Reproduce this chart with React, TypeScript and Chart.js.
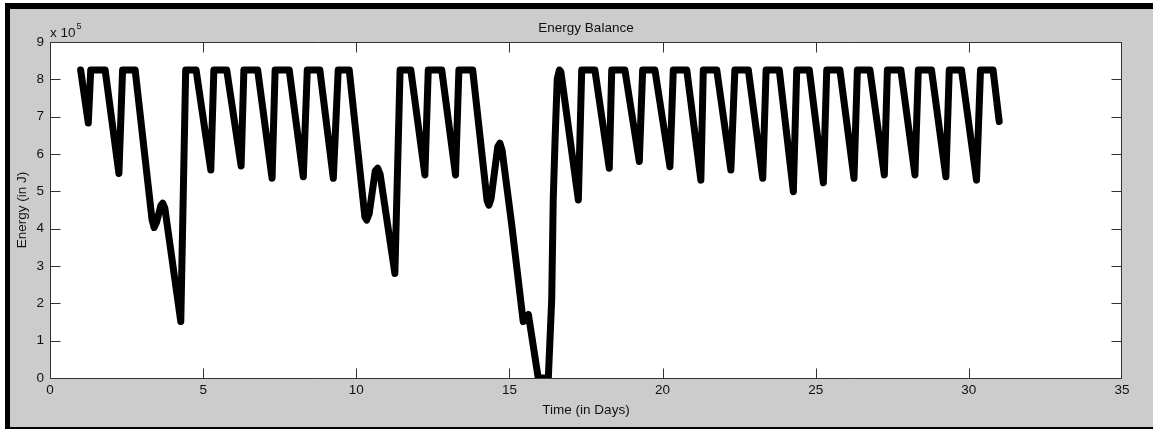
import React, { useEffect, useRef } from "react";
import { Chart, registerables } from "chart.js";

Chart.register(...registerables);

// ---- data (time in days, energy in J) ----
const days = [
  1.0, 1.25, 1.33, 1.8, 2.25, 2.37, 2.78, 3.33, 3.4, 3.47, 3.62, 3.68, 3.75, 4.27, 4.43,
  4.77, 5.25, 5.35, 5.77, 6.24, 6.33, 6.78, 7.25, 7.35, 7.81, 8.27, 8.4, 8.81, 9.25, 9.41,
  9.77, 10.28, 10.34, 10.42, 10.62, 10.7, 10.78, 11.26, 11.43, 11.78, 12.24, 12.35, 12.79,
  13.24, 13.35, 13.8, 14.27, 14.33, 14.4, 14.62, 14.69, 14.76, 15.07, 15.45, 15.62, 15.94,
  16.27, 16.38, 16.43, 16.49, 16.56, 16.63, 16.68, 17.25, 17.36, 17.79, 18.26, 18.34, 18.77,
  19.24, 19.35, 19.75, 20.24, 20.35, 20.79, 21.25, 21.33, 21.77, 22.23, 22.36, 22.8, 23.27,
  23.38, 23.81, 24.27, 24.38, 24.79, 25.25, 25.36, 25.79, 26.25, 26.36, 26.77, 27.24, 27.34,
  27.78, 28.24, 28.35, 28.78, 29.25, 29.36, 29.76, 30.25, 30.38, 30.79, 30.99,
];
const energyJ = [
  825000, 683000, 825000, 825000, 548000, 825000, 825000, 425000, 403000, 415000, 462000,
  468000, 455000, 151000, 825000, 825000, 557000, 825000, 825000, 568000, 825000, 825000,
  535000, 825000, 825000, 539000, 825000, 825000, 535000, 825000, 825000, 432000, 423000,
  440000, 555000, 562000, 545000, 280000, 825000, 825000, 544000, 825000, 825000, 544000,
  825000, 825000, 475000, 463000, 480000, 620000, 629000, 610000, 414000, 151000, 170000,
  0, 0, 210000, 477000, 638000, 800000, 825000, 820000, 477000, 825000, 825000, 562000,
  825000, 825000, 580000, 825000, 825000, 566000, 825000, 825000, 530000, 825000, 825000,
  557000, 825000, 825000, 535000, 825000, 825000, 499000, 825000, 825000, 523000, 825000,
  825000, 535000, 825000, 825000, 544000, 825000, 825000, 544000, 825000, 825000, 539000,
  825000, 825000, 530000, 825000, 825000, 687000,
];
const xTickValues = [0, 5, 10, 15, 20, 25, 30, 35];
const yTickValues = [0, 100000, 200000, 300000, 400000, 500000, 600000, 700000, 800000, 900000];
const yTickLabels = ["0", "1", "2", "3", "4", "5", "6", "7", "8", "9"];
const chartTitle = "Energy Balance";
const xAxisTitle = "Time (in Days)";
const yAxisTitle = "Energy (in J)";
const exponentBase = "x 10";
const exponentPower = "5";

const FONT = "'Liberation Sans', Arial, sans-serif";
const FS = 13.5;

const matlabAxes = {
  id: "matlabAxes",
  beforeDraw(chart: any) {
    const { ctx, chartArea } = chart;
    ctx.save();
    ctx.fillStyle = "#ffffff";
    ctx.fillRect(chartArea.left, chartArea.top, chartArea.right - chartArea.left, chartArea.bottom - chartArea.top);
    ctx.restore();
  },
  afterDraw(chart: any) {
    const { ctx, chartArea } = chart;
    const xs = chart.scales.x;
    const ys = chart.scales.y;
    const L = chartArea.left + 0.5;
    const R = chartArea.right - 0.5;
    const T = chartArea.top + 0.5;
    const B = chartArea.bottom + 0.5;
    const tl = 10;
    const clamp = (v: number, a: number, b: number) => Math.min(Math.max(v, a), b);
    ctx.save();
    ctx.strokeStyle = "#333333";
    ctx.lineWidth = 1;
    ctx.beginPath();
    ctx.rect(L, T, R - L, B - T);
    for (const v of xTickValues) {
      const px = clamp(Math.round(xs.getPixelForValue(v)) + 0.5, L, R);
      ctx.moveTo(px, B);
      ctx.lineTo(px, B - tl);
      ctx.moveTo(px, T);
      ctx.lineTo(px, T + tl);
    }
    for (const v of yTickValues) {
      const py = clamp(Math.round(ys.getPixelForValue(v)) + 0.5, T, B);
      ctx.moveTo(L, py);
      ctx.lineTo(L + tl, py);
      ctx.moveTo(R, py);
      ctx.lineTo(R - tl, py);
    }
    ctx.stroke();
    // exponent label
    ctx.fillStyle = "#111111";
    ctx.textBaseline = "alphabetic";
    ctx.textAlign = "left";
    ctx.font = `${FS}px ${FONT}`;
    const bx = chartArea.left;
    const by = chartArea.top - 5;
    ctx.fillText(exponentBase, bx, by);
    const w = ctx.measureText(exponentBase).width;
    ctx.font = `9px ${FONT}`;
    ctx.fillText(exponentPower, bx + w + 1, by - 8);
    ctx.restore();
  },
};

export default function App() {
  const ref = useRef<HTMLCanvasElement | null>(null);

  useEffect(() => {
    if (!ref.current) return;
    const points = days.map((d, i) => ({ x: d, y: energyJ[i] }));
    const chart = new Chart(ref.current, {
      type: "scatter",
      data: {
        datasets: [
          {
            label: "Energy",
            data: points,
            showLine: true,
            borderColor: "#000000",
            backgroundColor: "#000000",
            borderWidth: 7,
            pointRadius: 0,
            pointHoverRadius: 0,
            tension: 0,
            borderJoinStyle: "round",
            borderCapStyle: "round",
            clip: 0,
          } as any,
        ],
      },
      options: {
        animation: false,
        responsive: false,
        devicePixelRatio: 1,
        events: [],
        layout: { padding: { left: 0, right: 31, top: 0, bottom: 0 } },
        plugins: {
          legend: { display: false },
          tooltip: { enabled: false },
          title: {
            display: true,
            text: chartTitle,
            fullSize: false,
            color: "#111111",
            font: { family: FONT, size: FS, weight: "normal", lineHeight: 1.2 },
            padding: { top: 11.4, bottom: 5.4 },
          },
        },
        scales: {
          x: {
            type: "linear",
            min: 0,
            max: 35,
            afterFit: (s: any) => {
              s.height = 49;
            },
            afterBuildTicks: (s: any) => {
              s.ticks = xTickValues.map((v) => ({ value: v }));
            },
            grid: { display: false, drawTicks: false },
            border: { display: false },
            ticks: {
              autoSkip: false,
              maxRotation: 0,
              padding: 4,
              color: "#111111",
              font: { family: FONT, size: FS },
              callback: (v: any) => String(v),
            },
            title: {
              display: true,
              text: xAxisTitle,
              color: "#111111",
              font: { family: FONT, size: FS, lineHeight: 1.2 },
              padding: { top: 0, bottom: 9 },
            },
          },
          y: {
            type: "linear",
            min: 0,
            max: 900000,
            afterFit: (s: any) => {
              s.width = 40;
            },
            afterBuildTicks: (s: any) => {
              s.ticks = yTickValues.map((v) => ({ value: v }));
            },
            grid: { display: false, drawTicks: false },
            border: { display: false },
            ticks: {
              autoSkip: false,
              padding: 6,
              color: "#111111",
              font: { family: FONT, size: FS },
              callback: (v: any) => yTickLabels[yTickValues.indexOf(Number(v))] ?? "",
            },
            title: {
              display: true,
              text: yAxisTitle,
              color: "#111111",
              font: { family: FONT, size: FS, lineHeight: 1.2 },
              padding: { top: 4, bottom: 0 },
            },
          },
        },
      },
      plugins: [matlabAxes],
    });
    return () => chart.destroy();
  }, []);

  return (
    <div
      style={{
        position: "absolute",
        left: 0,
        top: 0,
        width: 1153,
        height: 429,
        background: "#ffffff",
        overflow: "hidden",
      }}
    >
      <div style={{ position: "absolute", left: 5, top: 3, width: 1148, height: 426, background: "#000000" }} />
      <div style={{ position: "absolute", left: 10, top: 9, width: 1143, height: 418, background: "#cccccc" }}>
        <canvas ref={ref} width={1143} height={418} style={{ display: "block", width: 1143, height: 418 }} />
      </div>
    </div>
  );
}
